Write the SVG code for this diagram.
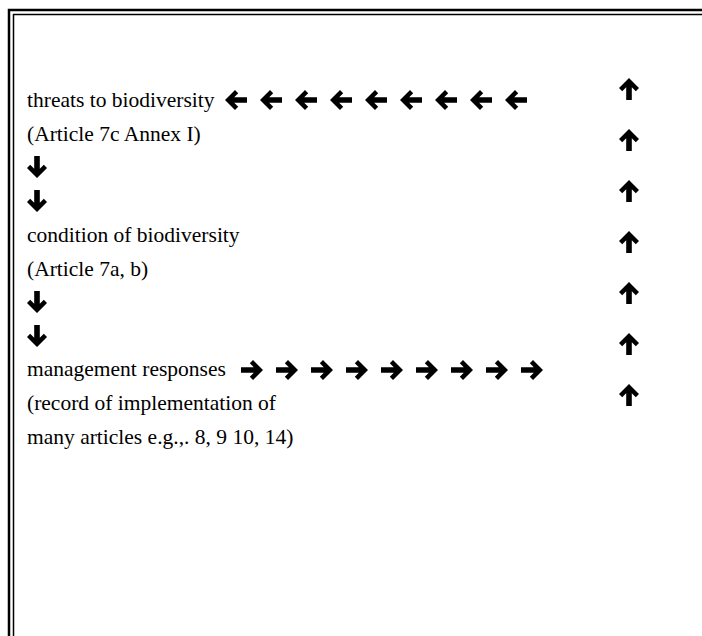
<svg xmlns="http://www.w3.org/2000/svg" xmlns:xlink="http://www.w3.org/1999/xlink" width="702" height="636" viewBox="0 0 702 636">
<style>
.t{font-family:"Liberation Serif","Times New Roman",serif;font-size:21.5px;fill:#000}
.frame{fill:none;stroke:#000}
</style>
<defs>
<path id="up" d="M0,-11 L10,-1 L6.8,2.2 L2.8,-1.8 L2.8,11 L-2.8,11 L-2.8,-1.8 L-6.8,2.2 L-10,-1 Z" fill="#000"/>
</defs>
<rect width="702" height="636" fill="#fff"/>
<g id="frame">
<rect class="frame" x="9" y="10" width="720" height="660" stroke-width="2.5"/>
<rect class="frame" x="13.5" y="14.5" width="720" height="660" stroke-width="1.5"/>
</g>
<g id="threats">
<text class="t" x="27" y="107">threats to biodiversity</text>
<text class="t" x="27" y="141">(Article 7c Annex I)</text>
</g>
<g id="condition">
<text class="t" x="27" y="242">condition of biodiversity</text>
<text class="t" x="27" y="276">(Article 7a, b)</text>
</g>
<g id="management">
<text class="t" x="27" y="376">management responses</text>
<text class="t" x="27" y="410">(record of implementation of</text>
<text class="t" x="27" y="444">many articles e.g.,. 8, 9 10, 14)</text>
</g>
<g id="connectors">
<g id="left-arrows">
<use xlink:href="#up" transform="translate(236,100) rotate(-90)"/>
<use xlink:href="#up" transform="translate(271,100) rotate(-90)"/>
<use xlink:href="#up" transform="translate(306,100) rotate(-90)"/>
<use xlink:href="#up" transform="translate(341,100) rotate(-90)"/>
<use xlink:href="#up" transform="translate(376,100) rotate(-90)"/>
<use xlink:href="#up" transform="translate(411,100) rotate(-90)"/>
<use xlink:href="#up" transform="translate(446,100) rotate(-90)"/>
<use xlink:href="#up" transform="translate(481,100) rotate(-90)"/>
<use xlink:href="#up" transform="translate(516,100) rotate(-90)"/>
</g>
<g id="down-arrows">
<use xlink:href="#up" transform="translate(37,167) rotate(180)"/>
<use xlink:href="#up" transform="translate(37,201) rotate(180)"/>
<use xlink:href="#up" transform="translate(37,302) rotate(180)"/>
<use xlink:href="#up" transform="translate(37,336) rotate(180)"/>
</g>
<g id="right-arrows">
<use xlink:href="#up" transform="translate(252,370) rotate(90)"/>
<use xlink:href="#up" transform="translate(287,370) rotate(90)"/>
<use xlink:href="#up" transform="translate(322,370) rotate(90)"/>
<use xlink:href="#up" transform="translate(357,370) rotate(90)"/>
<use xlink:href="#up" transform="translate(392,370) rotate(90)"/>
<use xlink:href="#up" transform="translate(427,370) rotate(90)"/>
<use xlink:href="#up" transform="translate(462,370) rotate(90)"/>
<use xlink:href="#up" transform="translate(497,370) rotate(90)"/>
<use xlink:href="#up" transform="translate(532,370) rotate(90)"/>
</g>
<g id="up-arrows">
<use xlink:href="#up" transform="translate(629,89)"/>
<use xlink:href="#up" transform="translate(629,140)"/>
<use xlink:href="#up" transform="translate(629,191)"/>
<use xlink:href="#up" transform="translate(629,242)"/>
<use xlink:href="#up" transform="translate(629,293)"/>
<use xlink:href="#up" transform="translate(629,344)"/>
<use xlink:href="#up" transform="translate(629,395)"/>
</g>
</g>
</svg>
